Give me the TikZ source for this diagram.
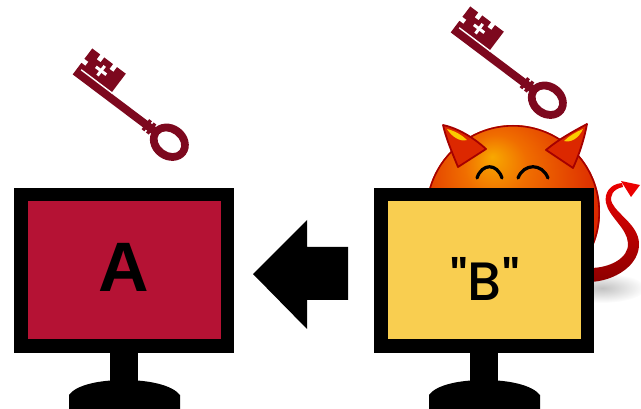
\documentclass[tikz,border=0pt]{standalone}
\usepackage{fontspec}
\setmainfont{Liberation Sans}
\newfontfamily\quotefont{Poppins Medium}
\definecolor{monred}{RGB}{181,18,52}
\definecolor{monyellow}{RGB}{249,206,80}
\definecolor{keyred}{RGB}{125,8,30}
\definecolor{devilglow}{RGB}{248,168,0}
\definecolor{devilorange}{RGB}{240,110,0}
\definecolor{devilred}{RGB}{220,40,0}
\definecolor{devildark}{RGB}{165,0,0}
\definecolor{tailred}{RGB}{235,0,0}
\definecolor{taildark}{RGB}{140,0,0}
\pgfdeclareradialshading{devilball}{\pgfpoint{-6bp}{16bp}}{%
  color(0bp)=(devilglow); color(9bp)=(devilorange); color(28bp)=(devilred);
  color(44bp)=(devilred); color(47bp)=(devilorange!60!devilred); color(50bp)=(devildark)}
\tikzset{
  screen/.style={draw=black, line width=13.5pt, minimum width=206.5pt,
    minimum height=151.5pt, inner sep=0pt},
  label A/.style={font=\bfseries\fontsize{70}{70}\selectfont, inner sep=0pt},
  label B/.style={font=\quotefont\fontsize{54}{54}\selectfont, inner sep=0pt},
  horn/.style={fill=devilred, draw=devildark, line width=1.8pt, line join=round},
  hornlight/.style={fill=devilglow!60!yellow},
  eye/.style={line width=3.2pt, line cap=round},
  key/.pic={
    \begin{scope}[yscale=-1]
      % shaft
      \fill[keyred] (0,-0.5) rectangle (104,7.5);
      % collar
      \fill[keyred] (88,-2.8) rectangle (91.5,9.8);
      \fill[keyred] (93.5,-2.8) rectangle (97,9.8);
      % bow
      \fill[keyred, even odd rule] (118,3.5) ellipse [x radius=20.5, y radius=17.5]
                                   (118,3.5) ellipse [x radius=13, y radius=9.5];
      % bit with teeth on its end and its far edge
      \fill[keyred] (0,7) -- (0,14) -- (5,14) -- (5,19) -- (0,19) -- (0,32)
        -- (10,32) -- (10,26) -- (15,26) -- (15,32)
        -- (26,32) -- (26,26) -- (31,26) -- (31,32) -- (42,32) -- (42,7) -- cycle;
      \fill[white] (4,7.6) rectangle (43,9);
      % cross cut into the bit
      \fill[white] (14,18) rectangle (27,21);
      \fill[white] (19,13.5) rectangle (22,25.5);
    \end{scope}
  },
  stand/.pic={
    \fill[black] (-14,0) rectangle (14,31);
    \fill[black] (-55,56) -- (-55,42) .. controls (-48,32) and (-25,27) .. (0,27)
      .. controls (25,27) and (48,32) .. (56,42) -- (56,56) -- cycle;
  }
}
\begin{document}
\begin{tikzpicture}[x=1pt, y=-1pt]
\useasboundingbox (0,0) rectangle (641,409);

% soft shadow of the devil
\shade[inner color=black!24, outer color=white] (602,288) ellipse [x radius=44, y radius=15];

% devil ball
\shade[shading=devilball] (513,212) circle [radius=87];
\draw[devildark, line width=1.6pt] (513,212) circle [radius=86.2];

% horns
\path[horn] (458,167) .. controls (451,150) and (446,138) .. (443,125)
  .. controls (457,128) and (473,137) .. (486,149) -- cycle;
\path[hornlight] (447,129) .. controls (455,131) and (462,135) .. (467,140)
  .. controls (460,142) and (452,137) .. cycle;
\path[horn] (546,150) .. controls (559,139) and (574,131) .. (587,124)
  .. controls (584,140) and (579,155) .. (573,168) -- cycle;
\path[hornlight] (583,129) .. controls (576,132) and (569,136) .. (564,141)
  .. controls (571,143) and (579,138) .. cycle;

% closed eyes
\draw[eye] (477,178) .. controls (482,163) and (497,163) .. (502,178);
\draw[eye] (518,178) .. controls (524,163) and (542,163) .. (548,178);

% tail
\shade[top color=tailred, bottom color=taildark]
  (590,282) .. controls (615,281) and (640,265) .. (639,243)
  .. controls (638,225) and (618,215) .. (612,203)
  .. controls (609,196) and (613,189) .. (623,187)
  -- (622,183) .. controls (610,184) and (604,193) .. (606,203)
  .. controls (609,217) and (627,228) .. (628,243)
  .. controls (629,258) and (610,268) .. (590,268) -- cycle;
\fill[tailred] (621,181) -- (640,185) -- (631,197) -- cycle;

% keys
\pic[rotate=-37] (keyA) at (73,74) {key};
\pic[rotate=-37] (keyB) at (451,32) {key};

% monitors
\pic (standA) at (124,353) {stand};
\pic (standB) at (484,353) {stand};
\node[screen, fill=monred] (screenA) at (124,270.5) {};
\node[screen, fill=monyellow] (screenB) at (484,270.5) {};
\node[label A] (textA) at (124,267) {A};
\node[label B] (textB) at (485,279) {"B"};

% arrow from B to A
\coordinate (tip) at (253,274);
\fill[black] (tip) -- (307,220) -- (307,247) -- (348,247) -- (348,300)
  -- (307,300) -- (307,329) -- cycle;
\end{tikzpicture}
\end{document}
